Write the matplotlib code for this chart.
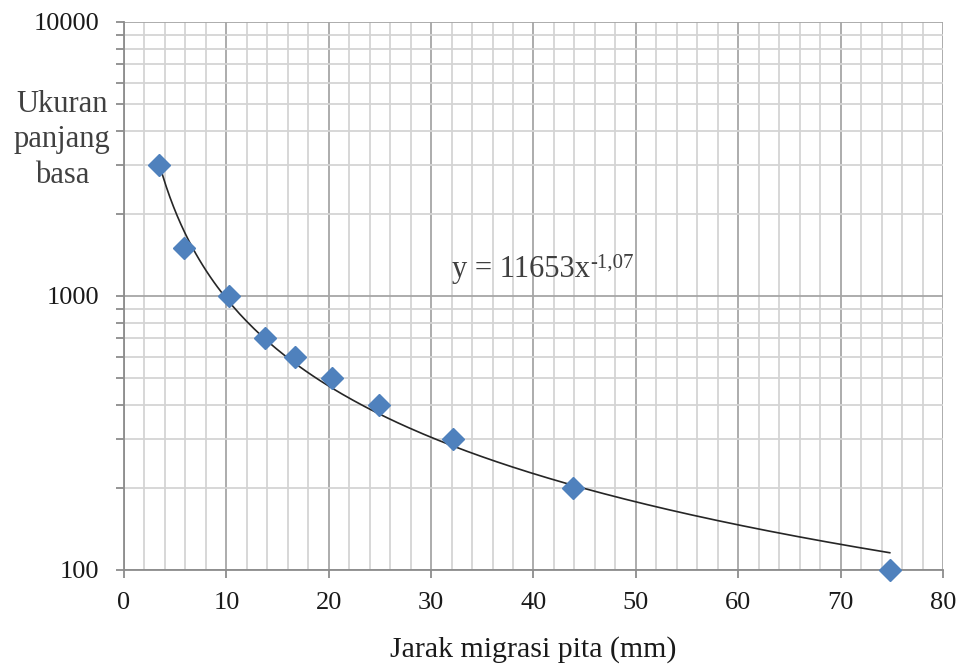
import numpy as np
import matplotlib.pyplot as plt
from matplotlib.ticker import MultipleLocator, LogLocator, NullFormatter, FixedLocator

# jarak migrasi (mm) vs ukuran pita (bp)
jarak = [3.4, 5.9, 10.3, 13.8, 16.7, 20.3, 24.9, 32.1, 43.9, 74.8]
ukuran = [3000, 1500, 1000, 700, 600, 500, 400, 300, 200, 100]
y_ticks = [100, 1000, 10000]
x_ticks = [0, 10, 20, 30, 40, 50, 60, 70, 80]

plt.rcParams['font.family'] = ['Liberation Serif', 'DejaVu Serif']

fig = plt.figure(figsize=(9.62, 6.64), dpi=100)
ax = fig.add_axes([124/962, 1-570/664, (943-124)/962, (570-22)/664])

ax.set_yscale('log')
ax.set_xlim(0, 80)
ax.set_ylim(100, 10000)

# grid
ax.xaxis.set_major_locator(FixedLocator(x_ticks))
ax.xaxis.set_minor_locator(MultipleLocator(2))
ax.yaxis.set_major_locator(FixedLocator(y_ticks))
ax.yaxis.set_minor_locator(LogLocator(base=10, subs=np.arange(2, 10)))
ax.yaxis.set_minor_formatter(NullFormatter())
ax.set_yticklabels([str(v) for v in y_ticks])
ax.grid(which='minor', color='#d4d4d4', lw=1.3, zorder=0)
ax.grid(which='major', color='#a6a6a6', lw=1.3, zorder=0)
ax.set_axisbelow(True)

for s in ['top', 'right']:
    ax.spines[s].set_visible(False)
for s in ['bottom', 'left']:
    ax.spines[s].set_color('#8c8c8c')
    ax.spines[s].set_linewidth(1.3)

ax.tick_params(axis='both', which='major', direction='out', length=6, width=1.3,
               color='#8c8c8c', labelsize=19, labelcolor='#1a1a1a')
ax.tick_params(axis='y', which='major', pad=12)
ax.tick_params(axis='x', which='major', pad=10)
ax.tick_params(axis='y', which='minor', direction='out', length=6, width=1.3, color='#8c8c8c')
ax.tick_params(axis='x', which='minor', length=0)

# trend line (power fit on log-log)
b, loga = np.polyfit(np.log(jarak), np.log(ukuran), 1)
xs = np.linspace(min(jarak), max(jarak), 200)
ax.plot(xs, np.exp(loga) * xs ** b, color='#262626', lw=1.2, zorder=3)

ax.plot(jarak, ukuran, linestyle='none', marker='D', markersize=11,
        color='#4f81bd', markeredgecolor='#4f81bd', zorder=4, clip_on=False)

eq = ax.text(32.0, 1175, 'y = 11653x', fontsize=22, color='#404040')
ax.annotate('-1,07', xy=(1, 0), xycoords=eq, xytext=(0.5, 11.5), textcoords='offset points',
            ha='left', va='baseline', fontsize=15, color='#404040')

ax.set_xlabel('Jarak migrasi pita (mm)', fontsize=21.5, labelpad=16, color='#1a1a1a')
fig.text(62/962, 1-140/664, 'Ukuran\npanjang\nbasa', fontsize=22, ha='center',
         va='center', linespacing=1.3, color='#404040')

fig.savefig('out.png', dpi=100)
